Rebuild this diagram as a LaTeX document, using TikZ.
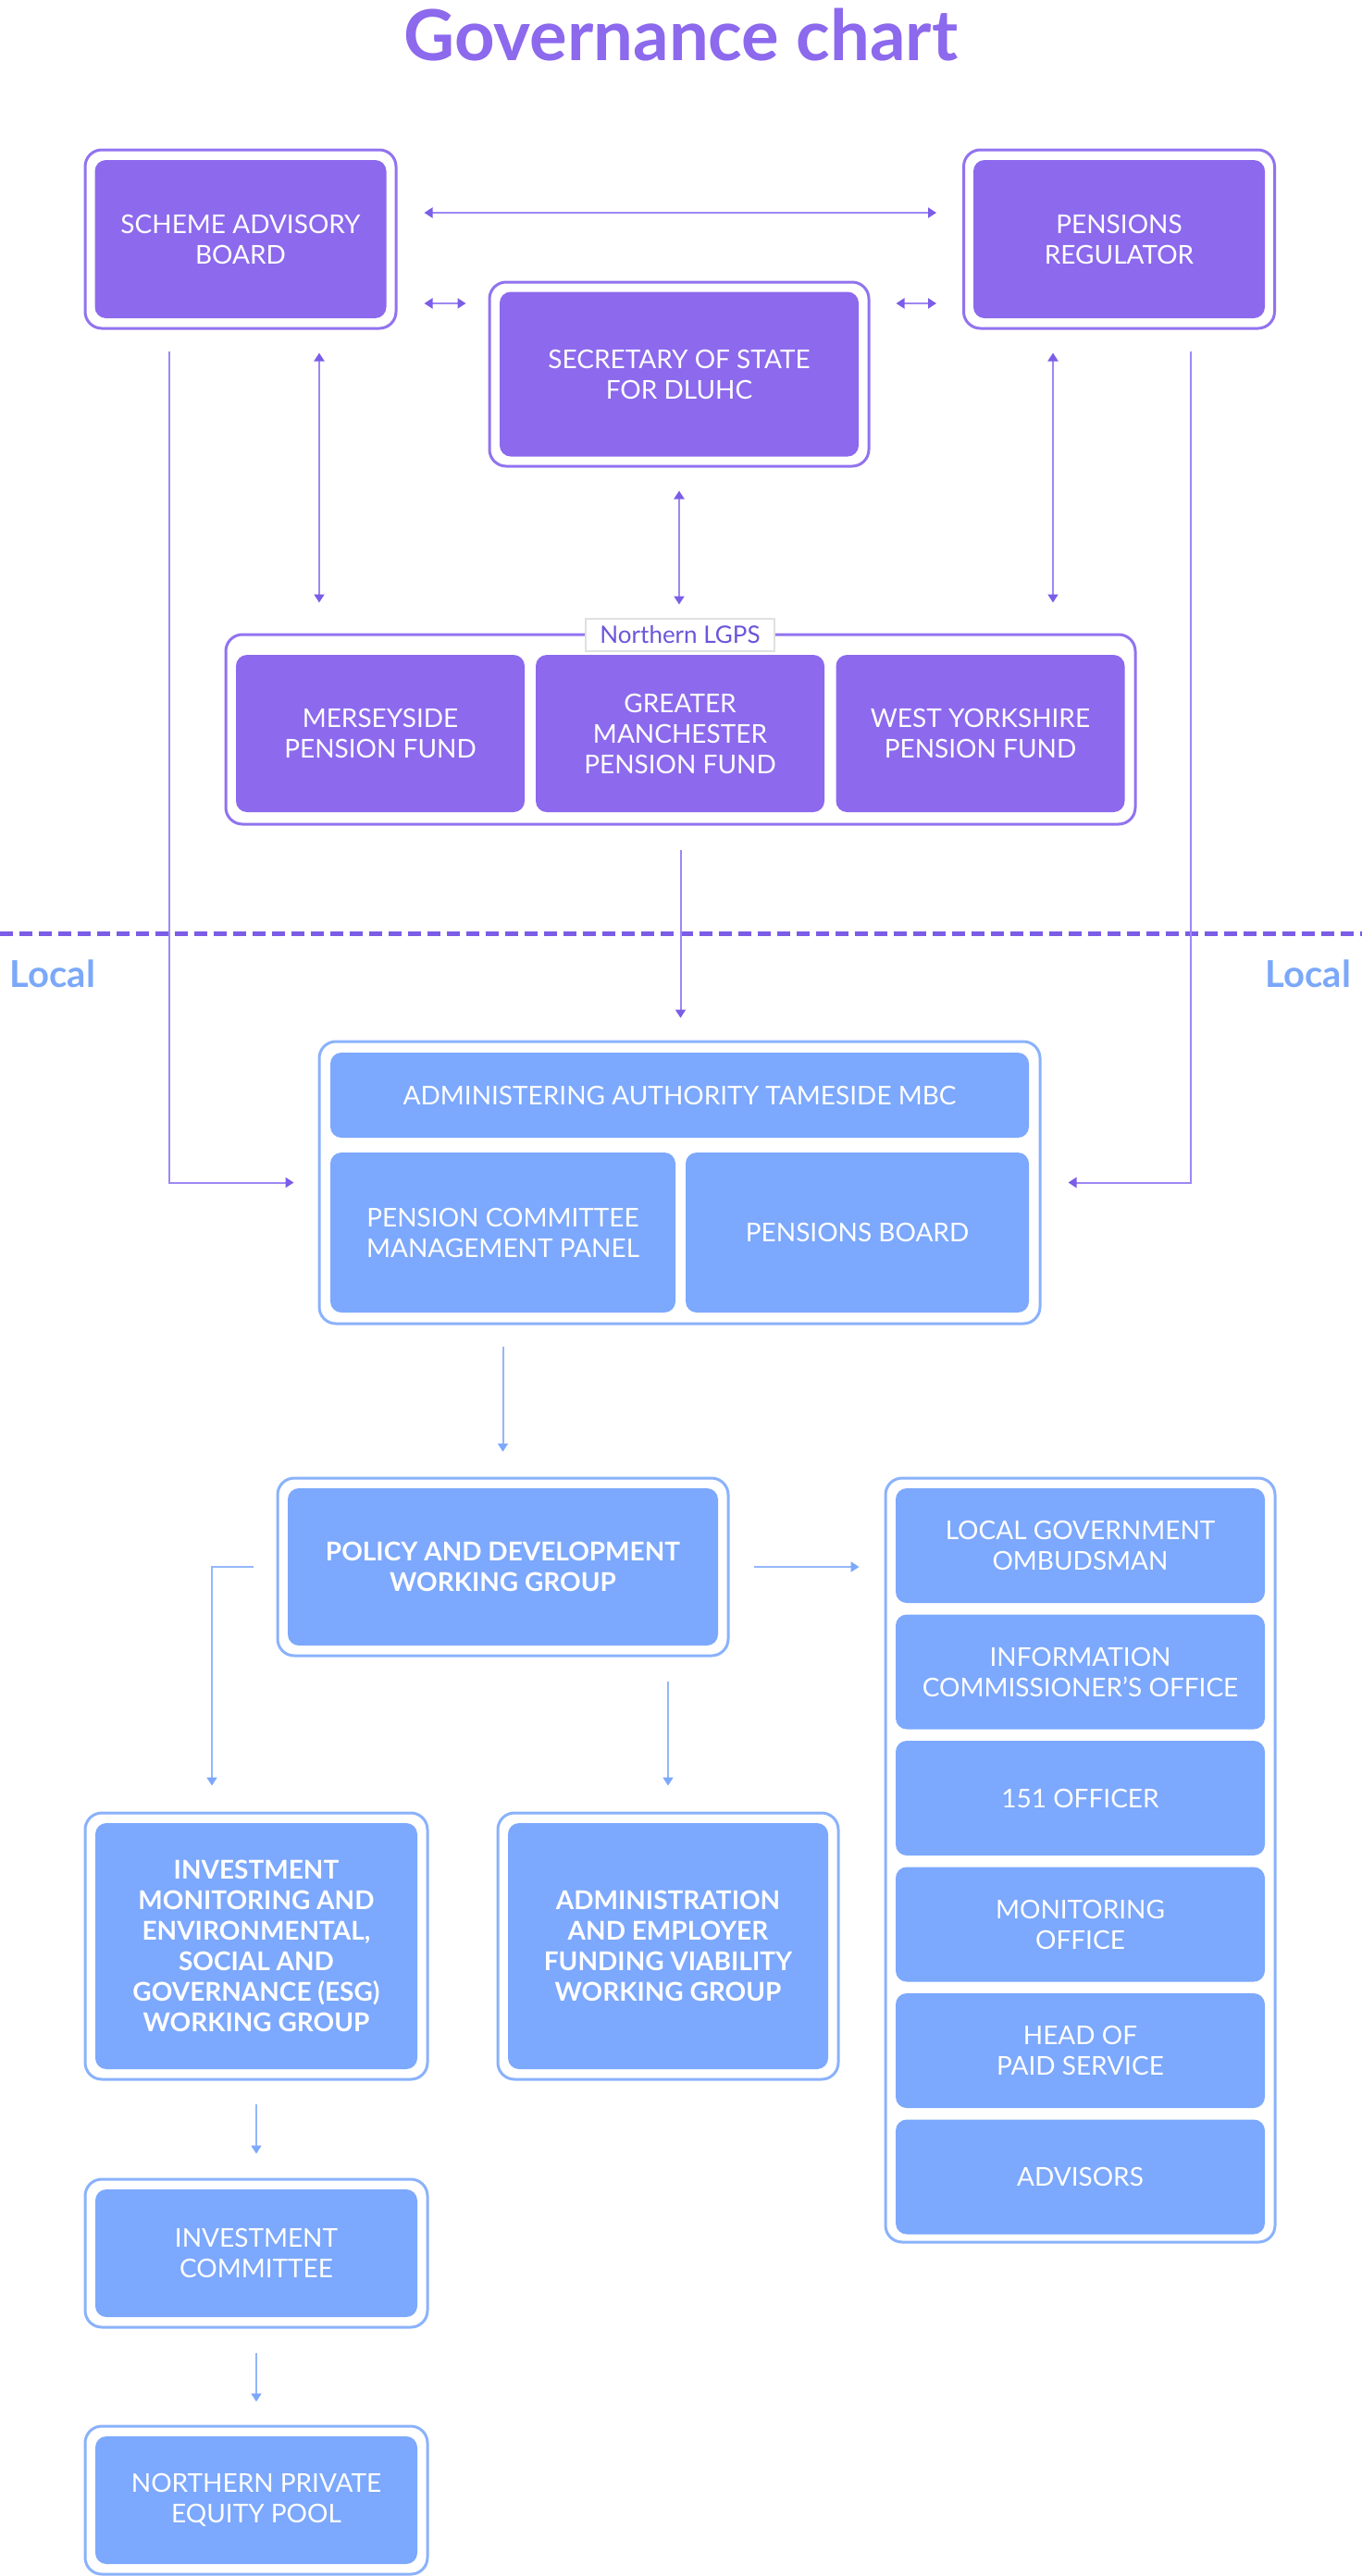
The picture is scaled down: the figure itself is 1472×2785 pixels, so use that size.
\documentclass[tikz,border=0pt]{standalone}
\usepackage{fontspec}
\setmainfont{Lato}
\usetikzlibrary{arrows.meta,positioning}
\definecolor{govpurple}{HTML}{8C69ED}
\definecolor{govpurpleframe}{HTML}{9173EF}
\definecolor{govpurpleline}{HTML}{9E88F3}
\definecolor{govpurpletip}{HTML}{7B5DE8}
\definecolor{govblue}{HTML}{7CA8FD}
\definecolor{govblueframe}{HTML}{8AB2FB}
\definecolor{govblueline}{HTML}{93B7F9}
\definecolor{govlocal}{HTML}{7BA8F9}
\definecolor{govdash}{HTML}{7B5CE6}
\definecolor{govlabel}{HTML}{6B56DB}

\tikzset{
    frame/.style={draw=#1, line width=3pt, rounded corners=18pt, fill=white, inner sep=0pt},
    cell/.style={fill=#1, rounded corners=12pt, text=white, align=center, inner sep=0pt,
        font=\fontsize{28}{33}\selectfont},
    strong/.style={font=\fontsize{28}{33}\selectfont\bfseries},
    plink/.style={draw=govpurpleline, line width=2pt,
        >={Triangle[length=9pt,width=11pt,color=govpurpletip]}},
    blink/.style={draw=govblueline, line width=2pt,
        >={Triangle[length=9pt,width=11pt,color=govblue]}},
}

\begin{document}
\begin{tikzpicture}[x=1pt,y=-1pt]
    \useasboundingbox (0,0) rectangle (1472,2785);

    % Title
    \node[text=govpurple, font=\fontsize{76}{86}\selectfont\bfseries] (title) at (736,38) {Governance chart};

    % National bodies
    \node[frame=govpurpleframe, minimum width=336pt, minimum height=193pt] (sab) at (260,258.5) {};
    \node[cell=govpurple, minimum width=315pt, minimum height=171pt] (sab-in) at (sab) {SCHEME ADVISORY\\BOARD};
    \node[frame=govpurpleframe, minimum width=336pt, minimum height=193pt] (reg) at (1209.5,258.5) {};
    \node[cell=govpurple, minimum width=315pt, minimum height=171pt] (reg-in) at (reg) {PENSIONS\\REGULATOR};
    \node[frame=govpurpleframe, minimum width=410pt, minimum height=199pt] (sos) at (734,404.5) {};
    \node[cell=govpurple, minimum width=388pt, minimum height=178pt] (sos-in) at (sos) {SECRETARY OF STATE\\FOR DLUHC};

    % Northern LGPS pool
    \node[frame=govpurpleframe, minimum width=983pt, minimum height=205pt] (lgps) at (735.5,788.5) {};
    \node[draw=black!12, line width=1.5pt, fill=white, text=govlabel, inner sep=0pt,
        minimum width=204pt, minimum height=35pt, font=\fontsize{26}{30}\selectfont] (lgps-label) at (735,686.5) {Northern LGPS};
    \node[cell=govpurple, minimum width=312pt, minimum height=170pt] (mers) at (411,793) {MERSEYSIDE\\PENSION FUND};
    \node[cell=govpurple, minimum width=312pt, minimum height=170pt] (gman) at (735,793) {GREATER\\MANCHESTER\\PENSION FUND};
    \node[cell=govpurple, minimum width=312pt, minimum height=170pt] (wyork) at (1059.5,793) {WEST YORKSHIRE\\PENSION FUND};

    % National / local divider
    \draw[govdash, line width=5pt, dash pattern=on 14pt off 7pt] (0,1009) -- (1472,1009);
    \node[text=govlocal, font=\fontsize{40}{44}\selectfont\bfseries] (local-l) at (57,1053) {Local};
    \node[text=govlocal, font=\fontsize{40}{44}\selectfont\bfseries] (local-r) at (1414,1053) {Local};

    % Administering authority
    \node[frame=govblueframe, minimum width=779pt, minimum height=305pt] (tame) at (734.5,1278.5) {};
    \node[cell=govblue, minimum width=755pt, minimum height=92pt] (tame-top) at (734.5,1184) {ADMINISTERING AUTHORITY TAMESIDE MBC};
    \node[cell=govblue, minimum width=373pt, minimum height=173pt] (panel) at (543.5,1332.5) {PENSION COMMITTEE\\MANAGEMENT PANEL};
    \node[cell=govblue, minimum width=371pt, minimum height=173pt] (board) at (926.5,1332.5) {PENSIONS BOARD};

    % Working groups
    \node[frame=govblueframe, minimum width=487pt, minimum height=192pt] (policy) at (543.5,1694) {};
    \node[cell=govblue, strong, minimum width=465pt, minimum height=170pt] (policy-in) at (policy) {POLICY AND DEVELOPMENT\\WORKING GROUP};
    \node[frame=govblueframe, minimum width=370pt, minimum height=288pt] (esg) at (277,2104) {};
    \node[cell=govblue, strong, minimum width=348pt, minimum height=266pt] (esg-in) at (esg) {INVESTMENT\\MONITORING AND\\ENVIRONMENTAL,\\SOCIAL AND\\GOVERNANCE (ESG)\\WORKING GROUP};
    \node[frame=govblueframe, minimum width=368pt, minimum height=288pt] (admin) at (722,2104) {};
    \node[cell=govblue, strong, minimum width=346pt, minimum height=266pt] (admin-in) at (admin) {ADMINISTRATION\\AND EMPLOYER\\FUNDING VIABILITY\\WORKING GROUP};
    \node[frame=govblueframe, minimum width=370pt, minimum height=160pt] (ic) at (277,2436) {};
    \node[cell=govblue, minimum width=348pt, minimum height=138pt] (ic-in) at (ic) {INVESTMENT\\COMMITTEE};
    \node[frame=govblueframe, minimum width=370pt, minimum height=160pt] (pool) at (277,2703) {};
    \node[cell=govblue, minimum width=348pt, minimum height=138pt] (pool-in) at (pool) {NORTHERN PRIVATE\\EQUITY POOL};

    % Statutory officers and advisors
    \node[frame=govblueframe, minimum width=421pt, minimum height=826pt] (side) at (1167.5,2011) {};
    \foreach \txt [count=\i from 0] in {{LOCAL GOVERNMENT\\OMBUDSMAN},{INFORMATION\\COMMISSIONER’S OFFICE},{151 OFFICER},{MONITORING\\OFFICE},{HEAD OF\\PAID SERVICE},{ADVISORS}}
        \node[cell=govblue, minimum width=399pt, minimum height=124pt] (side-\i) at (1167.5,{1671+136.5*\i}) {\txt};

    % Connectors, national
    \coordinate (sab-low) at ([yshift=-69.5pt]sab.east);
    \coordinate (reg-low) at ([yshift=-69.5pt]reg.west);
    \draw[plink,<->, shorten <=29pt, shorten >=28pt] ([yshift=28.5pt]sab.east) -- ([yshift=28.5pt]reg.west);
    \draw[plink,<->, shorten <=29pt, shorten >=24pt] (sab-low) -- (sab-low -| sos.west);
    \draw[plink,<->, shorten <=28pt, shorten >=28pt] (reg-low -| sos.east) -- (reg-low);
    \draw[plink,<->, shorten <=25pt, shorten >=33pt] ([xshift=85pt]sab.south) -- ([xshift=85pt]sab.south |- lgps.north);
    \draw[plink,<->, shorten <=25pt, shorten >=31pt] (sos.south) -- (sos.south |- lgps.north);
    \draw[plink,<->, shorten <=25pt, shorten >=33pt] ([xshift=-71.5pt]reg.south) -- ([xshift=-71.5pt]reg.south |- lgps.north);
    \draw[plink,->, shorten <=23pt, shorten >=26pt] ([xshift=-77pt]sab.south) |- (tame.west);
    \draw[plink,->, shorten <=23pt, shorten >=29pt] ([xshift=77.5pt]reg.south) |- (tame.east);
    \draw[plink,->, shorten <=26pt, shorten >=24pt] (lgps.south) -- (lgps.south |- tame.north);

    % Connectors, local
    \draw[blink,->, shorten <=23pt, shorten >=27pt] (tame.south -| policy.north) -- (policy.north);
    \draw[blink,->, shorten <=26pt, shorten >=27pt] (policy.east) -- (policy.east -| side.west);
    \draw[blink,->, shorten <=25pt, shorten >=28pt] (policy.west) -| ([xshift=-48pt]esg.north);
    \draw[blink,->, shorten <=26pt, shorten >=28pt] (policy.south -| admin.north) -- (admin.north);
    \draw[blink,->, shorten <=25pt, shorten >=26pt] (esg.south) -- (ic.north);
    \draw[blink,->, shorten <=26pt, shorten >=25pt] (ic.south) -- (pool.north);
\end{tikzpicture}
\end{document}
